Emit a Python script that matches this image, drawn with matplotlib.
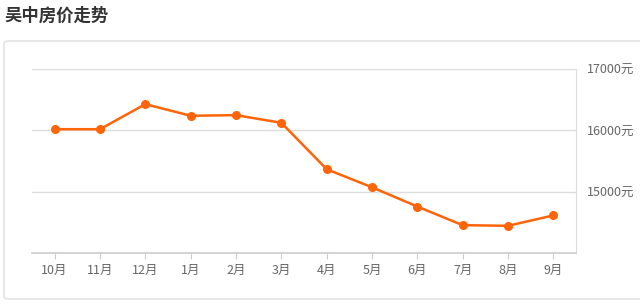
import matplotlib
matplotlib.use('Agg')
import matplotlib.pyplot as plt
from matplotlib.patches import FancyBboxPatch

plt.rcParams['font.family'] = ['Noto Sans CJK SC', 'DejaVu Sans']

# data
months = ['10月', '11月', '12月', '1月', '2月', '3月', '4月', '5月', '6月', '7月', '8月', '9月']
prices = [16020, 16020, 16430, 16240, 16250, 16125, 15365, 15070, 14755, 14450, 14440, 14610]
yticks = [15000, 16000, 17000]

fig = plt.figure(figsize=(6.4, 3.05), dpi=100)

# card background
card = FancyBboxPatch((4 / 640, 6 / 305), 650 / 640, 258 / 305,
                      boxstyle='round,pad=0,rounding_size=0.008',
                      transform=fig.transFigure, facecolor='white',
                      edgecolor='#e3e3e3', linewidth=1.2, zorder=-1)
fig.patches.append(card)

fig.text(4 / 640, 1 - 16 / 305, '吴中房价走势', fontsize=12.5, fontweight='bold',
         color='#333333', va='center', ha='left')

ax = fig.add_axes([32 / 640, 1 - 252.7 / 305, 544 / 640, (252.7 - 69.3) / 305])
ax.set_zorder(2)
ax.set_facecolor('none')
x = list(range(len(months)))
ax.plot(x, prices, color='#ff6408', linewidth=1.8, marker='o', markersize=5.5,
        markerfacecolor='#ff6408', markeredgecolor='#ff6408', zorder=3)

ax.set_xlim(-0.5, len(months) - 0.5)
ax.set_ylim(14000, 17000)
ax.set_xticks(x)
ax.set_xticklabels(months, fontsize=9, color='#666666')
ax.yaxis.tick_right()
ax.set_yticks(yticks)
ax.set_yticklabels([f'{v}元' for v in yticks], fontsize=9, color='#666666')
ax.tick_params(axis='y', length=0, pad=8)
ax.tick_params(axis='x', length=4, color='#cccccc', pad=4)

for v in yticks:
    ax.axhline(v, color='#dddddd', linewidth=1, zorder=1)

for side in ['left', 'top']:
    ax.spines[side].set_visible(False)
ax.spines['bottom'].set_color('#cccccc')
ax.spines['right'].set_color('#dddddd')
ax.spines['bottom'].set_linewidth(1.2)

fig.savefig('out.png', dpi=100)
